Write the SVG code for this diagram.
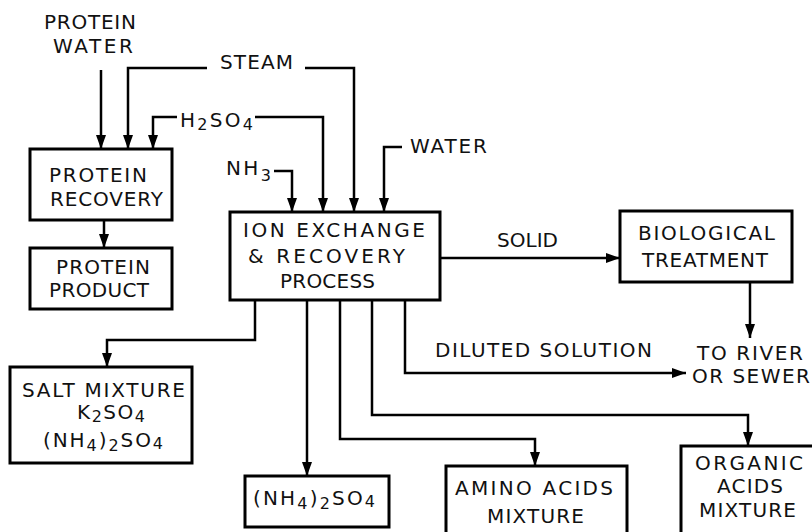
<svg xmlns="http://www.w3.org/2000/svg" width="812" height="532" viewBox="0 0 812 532">
<defs>
<marker id="ah" markerWidth="14" markerHeight="10" refX="14" refY="5" orient="auto" markerUnits="userSpaceOnUse">
<path d="M0,0 L14,5 L0,10 Z" fill="#000"/>
</marker>
<style>
text{font-family:"DejaVu Sans","Liberation Sans",sans-serif;font-size:20px;fill:#111;}
.sub{font-size:16px;}
rect.box{fill:#fff;stroke:#000;stroke-width:3;}
.c path{fill:none;stroke:#000;stroke-width:2.5;marker-end:url(#ah);}
</style>
</defs>
<rect width="812" height="532" fill="#fff"/>

<g id="connectors" class="c">
<path d="M101,70 V149"/>
<path d="M207,68 H128 V149"/>
<path d="M305,68 H354 V212"/>
<path d="M177,117 H153 V149"/>
<path d="M255,117 H323 V212"/>
<path d="M274,171 H292 V212"/>
<path d="M402,147 H384 V212"/>
<path d="M104,220 V248"/>
<path d="M255,300 V340 H107 V367"/>
<path d="M307,300 V476"/>
<path d="M340,300 V439 H535 V466"/>
<path d="M372,300 V415 H748 V446"/>
<path d="M405,300 V373 H686"/>
<path d="M440,258 H620"/>
<path d="M750,282 V338"/>
</g>

<g id="lbl-protein-water">
<text x="44" y="29" textLength="92" lengthAdjust="spacing">PROTEIN</text>
<text x="53" y="53" textLength="80" lengthAdjust="spacing">WATER</text>
</g>
<g id="lbl-steam"><text x="220" y="69" textLength="73" lengthAdjust="spacing">STEAM</text></g>
<g id="lbl-h2so4"><text x="180" y="127" textLength="73" lengthAdjust="spacing">H<tspan class="sub" dy="3">2</tspan><tspan dy="-3">SO</tspan><tspan class="sub" dy="3">4</tspan></text></g>
<g id="lbl-nh3"><text x="226" y="175" textLength="45" lengthAdjust="spacing">NH<tspan class="sub" dy="6">3</tspan></text></g>
<g id="lbl-water"><text x="410" y="153" textLength="77" lengthAdjust="spacing">WATER</text></g>
<g id="lbl-solid"><text x="497" y="247" textLength="61" lengthAdjust="spacing">SOLID</text></g>
<g id="lbl-diluted"><text x="435" y="357" textLength="217" lengthAdjust="spacing">DILUTED  SOLUTION</text></g>
<g id="lbl-river">
<text x="697" y="360" textLength="106" lengthAdjust="spacing">TO  RIVER</text>
<text x="692" y="383" textLength="118" lengthAdjust="spacing">OR  SEWER</text>
</g>

<g id="protein-recovery">
<rect class="box" x="30" y="149" width="142" height="71"/>
<text x="49" y="182" textLength="98" lengthAdjust="spacing">PROTEIN</text>
<text x="50" y="206" textLength="113" lengthAdjust="spacing">RECOVERY</text>
</g>
<g id="protein-product">
<rect class="box" x="30" y="248" width="142" height="61"/>
<text x="56" y="274" textLength="94" lengthAdjust="spacing">PROTEIN</text>
<text x="49" y="297" textLength="100" lengthAdjust="spacing">PRODUCT</text>
</g>
<g id="ion-exchange">
<rect class="box" x="230" y="212" width="210" height="88"/>
<text x="243" y="237" textLength="182" lengthAdjust="spacing">ION  EXCHANGE</text>
<text x="248" y="263" textLength="157" lengthAdjust="spacing">&amp;  RECOVERY</text>
<text x="280" y="288" textLength="95" lengthAdjust="spacing">PROCESS</text>
</g>
<g id="biological">
<rect class="box" x="620" y="211" width="172" height="71"/>
<text x="638" y="240" textLength="137" lengthAdjust="spacing">BIOLOGICAL</text>
<text x="642" y="267" textLength="126" lengthAdjust="spacing">TREATMENT</text>
</g>
<g id="salt-mixture">
<rect class="box" x="10" y="367" width="182" height="96"/>
<text x="22" y="397" textLength="163" lengthAdjust="spacing">SALT  MIXTURE</text>
<text x="77" y="419" textLength="68" lengthAdjust="spacing">K<tspan class="sub" dy="3">2</tspan><tspan dy="-3">SO</tspan><tspan class="sub" dy="3">4</tspan></text>
<text x="43" y="447" textLength="120" lengthAdjust="spacing">(NH<tspan class="sub" dy="4">4</tspan><tspan dy="-4">)</tspan><tspan class="sub" dy="4">2</tspan><tspan dy="-4">SO</tspan><tspan class="sub" dy="2">4</tspan></text>
</g>
<g id="ammonium-sulfate">
<rect class="box" x="245" y="476" width="144" height="51"/>
<text x="253" y="505" textLength="122" lengthAdjust="spacing">(NH<tspan class="sub" dy="4">4</tspan><tspan dy="-4">)</tspan><tspan class="sub" dy="4">2</tspan><tspan dy="-4">SO</tspan><tspan class="sub" dy="2">4</tspan></text>
</g>
<g id="amino-acids">
<rect class="box" x="446" y="466" width="181" height="72"/>
<text x="455" y="495" textLength="158" lengthAdjust="spacing">AMINO  ACIDS</text>
<text x="487" y="523" textLength="97" lengthAdjust="spacing">MIXTURE</text>
</g>
<g id="organic-acids">
<rect class="box" x="681" y="446" width="140" height="92"/>
<text x="695" y="470" textLength="108" lengthAdjust="spacing">ORGANIC</text>
<text x="717" y="493" textLength="66" lengthAdjust="spacing">ACIDS</text>
<text x="699" y="517" textLength="97" lengthAdjust="spacing">MIXTURE</text>
</g>
</svg>
